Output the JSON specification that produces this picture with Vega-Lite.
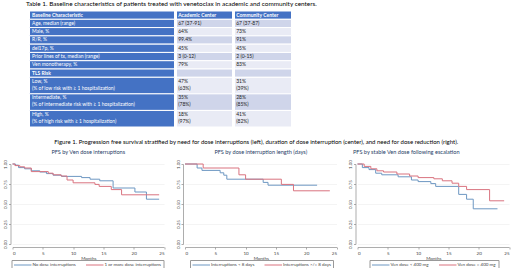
{
  "$schema": "https://vega.github.io/schema/vega-lite/v6.json",
  "padding": {"left": 2.5, "top": 1, "right": 0, "bottom": 0},
  "background": "white",
  "spacing": 10,
  "config": {
    "font": "Lato",
    "view": {"stroke": null},
    "title": {"fontWeight": "normal", "color": "#000000", "font": "Lato"},
    "axis": {
      "labelFont": "Lato", "labelFontSize": 4.5, "labelColor": "#444444",
      "domainColor": "#8a8a8a", "domainWidth": 0.7,
      "tickColor": "#8a8a8a", "tickSize": 2, "tickWidth": 0.7,
      "gridColor": "#ededed", "gridWidth": 0.6, "labelPadding": 1,
      "titleFont": "Lato", "titleFontSize": 4.5, "titleFontWeight": "normal", "titleColor": "#444444"
    },
    "legend": {
      "labelFont": "Lato", "labelFontSize": 4.5, "labelColor": "#444444"
    }
  },
  "datasets": {
    "table": [
      {"row": 0, "col": 0, "text": "Baseline Characteristic"},
      {"row": 0, "col": 1, "text": "Academic Center"},
      {"row": 0, "col": 2, "text": "Community Center"},
      {"row": 1, "col": 0, "text": "Age, median (range)"},
      {"row": 1, "col": 1, "text": "67 (37-91)"},
      {"row": 1, "col": 2, "text": "67 (37-87)"},
      {"row": 2, "col": 0, "text": "Male, %"},
      {"row": 2, "col": 1, "text": "64%"},
      {"row": 2, "col": 2, "text": "73%"},
      {"row": 3, "col": 0, "text": "R/R, %"},
      {"row": 3, "col": 1, "text": "99.4%"},
      {"row": 3, "col": 2, "text": "91%"},
      {"row": 4, "col": 0, "text": "del17p, %"},
      {"row": 4, "col": 1, "text": "45%"},
      {"row": 4, "col": 2, "text": "45%"},
      {"row": 5, "col": 0, "text": "Prior lines of tx, median (range)"},
      {"row": 5, "col": 1, "text": "3 (0-12)"},
      {"row": 5, "col": 2, "text": "2 (0-15)"},
      {"row": 6, "col": 0, "text": "Ven monotherapy, %"},
      {"row": 6, "col": 1, "text": "79%"},
      {"row": 6, "col": 2, "text": "83%"},
      {"row": 7, "col": 0, "text": "TLS Risk"},
      {"row": 7, "col": 1, "text": ""},
      {"row": 7, "col": 2, "text": ""},
      {"row": 8, "col": 0, "text": "\u00a0\u00a0\u00a0Low, %\n\u00a0(% of low risk with ≥ 1 hospitalization)"},
      {"row": 8, "col": 1, "text": "47%\n(63%)"},
      {"row": 8, "col": 2, "text": "31%\n(39%)"},
      {"row": 9, "col": 0, "text": "\u00a0\u00a0\u00a0Intermediate, %\n\u00a0(% of intermediate risk with ≥ 1 hospitalization)"},
      {"row": 9, "col": 1, "text": "35%\n(78%)"},
      {"row": 9, "col": 2, "text": "28%\n(85%)"},
      {"row": 10, "col": 0, "text": "\u00a0\u00a0\u00a0High, %\n\u00a0(% of high risk with ≥ 1 hospitalization)"},
      {"row": 10, "col": 1, "text": "18%\n(97%)"},
      {"row": 10, "col": 2, "text": "41%\n(82%)"}
    ],
    "km": [
      {"p": 1, "g": "No dose interruptions", "t": 0, "s": 1},
      {"p": 1, "g": "No dose interruptions", "t": 0.5, "s": 0.985},
      {"p": 1, "g": "No dose interruptions", "t": 1, "s": 0.955},
      {"p": 1, "g": "No dose interruptions", "t": 2, "s": 0.94},
      {"p": 1, "g": "No dose interruptions", "t": 3.1, "s": 0.915},
      {"p": 1, "g": "No dose interruptions", "t": 4.5, "s": 0.9},
      {"p": 1, "g": "No dose interruptions", "t": 5.6, "s": 0.88},
      {"p": 1, "g": "No dose interruptions", "t": 6.7, "s": 0.86},
      {"p": 1, "g": "No dose interruptions", "t": 8.1, "s": 0.845},
      {"p": 1, "g": "No dose interruptions", "t": 11.4, "s": 0.83},
      {"p": 1, "g": "No dose interruptions", "t": 12.8, "s": 0.81},
      {"p": 1, "g": "No dose interruptions", "t": 14.4, "s": 0.79},
      {"p": 1, "g": "No dose interruptions", "t": 16.6, "s": 0.7},
      {"p": 1, "g": "No dose interruptions", "t": 20.2, "s": 0.65},
      {"p": 1, "g": "No dose interruptions", "t": 22.1, "s": 0.56},
      {"p": 1, "g": "No dose interruptions", "t": 24.2, "s": 0.56},
      {"p": 1, "g": "1 or more dose interruptions", "t": 0, "s": 1},
      {"p": 1, "g": "1 or more dose interruptions", "t": 0.4, "s": 0.98},
      {"p": 1, "g": "1 or more dose interruptions", "t": 1.2, "s": 0.965},
      {"p": 1, "g": "1 or more dose interruptions", "t": 2, "s": 0.95},
      {"p": 1, "g": "1 or more dose interruptions", "t": 3.1, "s": 0.905},
      {"p": 1, "g": "1 or more dose interruptions", "t": 5.9, "s": 0.885},
      {"p": 1, "g": "1 or more dose interruptions", "t": 6.7, "s": 0.865},
      {"p": 1, "g": "1 or more dose interruptions", "t": 8, "s": 0.85},
      {"p": 1, "g": "1 or more dose interruptions", "t": 9, "s": 0.8},
      {"p": 1, "g": "1 or more dose interruptions", "t": 10, "s": 0.765},
      {"p": 1, "g": "1 or more dose interruptions", "t": 13.6, "s": 0.745},
      {"p": 1, "g": "1 or more dose interruptions", "t": 14.3, "s": 0.72},
      {"p": 1, "g": "1 or more dose interruptions", "t": 16.3, "s": 0.68},
      {"p": 1, "g": "1 or more dose interruptions", "t": 18, "s": 0.615},
      {"p": 1, "g": "1 or more dose interruptions", "t": 24.2, "s": 0.615},
      {"p": 2, "g": "Interruptions < 8 days", "t": 0, "s": 1},
      {"p": 2, "g": "Interruptions < 8 days", "t": 2, "s": 0.95},
      {"p": 2, "g": "Interruptions < 8 days", "t": 2.8, "s": 0.92},
      {"p": 2, "g": "Interruptions < 8 days", "t": 5.8, "s": 0.89},
      {"p": 2, "g": "Interruptions < 8 days", "t": 6.4, "s": 0.86},
      {"p": 2, "g": "Interruptions < 8 days", "t": 6.9, "s": 0.81},
      {"p": 2, "g": "Interruptions < 8 days", "t": 12.9, "s": 0.77},
      {"p": 2, "g": "Interruptions < 8 days", "t": 13.7, "s": 0.735},
      {"p": 2, "g": "Interruptions < 8 days", "t": 21.8, "s": 0.735},
      {"p": 2, "g": "Interruptions >/= 8 days", "t": 0, "s": 1},
      {"p": 2, "g": "Interruptions >/= 8 days", "t": 3, "s": 0.95},
      {"p": 2, "g": "Interruptions >/= 8 days", "t": 8.9, "s": 0.865},
      {"p": 2, "g": "Interruptions >/= 8 days", "t": 10, "s": 0.81},
      {"p": 2, "g": "Interruptions >/= 8 days", "t": 15.9, "s": 0.745},
      {"p": 2, "g": "Interruptions >/= 8 days", "t": 17.9, "s": 0.665},
      {"p": 2, "g": "Interruptions >/= 8 days", "t": 23.9, "s": 0.665},
      {"p": 3, "g": "Ven dose < 400 mg", "t": 0, "s": 1},
      {"p": 3, "g": "Ven dose < 400 mg", "t": 0.8, "s": 0.955},
      {"p": 3, "g": "Ven dose < 400 mg", "t": 1.9, "s": 0.93},
      {"p": 3, "g": "Ven dose < 400 mg", "t": 3, "s": 0.885},
      {"p": 3, "g": "Ven dose < 400 mg", "t": 4, "s": 0.865},
      {"p": 3, "g": "Ven dose < 400 mg", "t": 6.7, "s": 0.84},
      {"p": 3, "g": "Ven dose < 400 mg", "t": 8.9, "s": 0.8},
      {"p": 3, "g": "Ven dose < 400 mg", "t": 10, "s": 0.78},
      {"p": 3, "g": "Ven dose < 400 mg", "t": 12.1, "s": 0.755},
      {"p": 3, "g": "Ven dose < 400 mg", "t": 12.9, "s": 0.72},
      {"p": 3, "g": "Ven dose < 400 mg", "t": 16.7, "s": 0.62},
      {"p": 3, "g": "Ven dose < 400 mg", "t": 18, "s": 0.56},
      {"p": 3, "g": "Ven dose < 400 mg", "t": 19.1, "s": 0.44},
      {"p": 3, "g": "Ven dose < 400 mg", "t": 23.1, "s": 0.44},
      {"p": 3, "g": "Ven dose = 400 mg", "t": 0, "s": 1},
      {"p": 3, "g": "Ven dose = 400 mg", "t": 1.1, "s": 0.97},
      {"p": 3, "g": "Ven dose = 400 mg", "t": 2.2, "s": 0.94},
      {"p": 3, "g": "Ven dose = 400 mg", "t": 3.2, "s": 0.915},
      {"p": 3, "g": "Ven dose = 400 mg", "t": 4.3, "s": 0.9},
      {"p": 3, "g": "Ven dose = 400 mg", "t": 6.5, "s": 0.875},
      {"p": 3, "g": "Ven dose = 400 mg", "t": 8.6, "s": 0.85},
      {"p": 3, "g": "Ven dose = 400 mg", "t": 10, "s": 0.83},
      {"p": 3, "g": "Ven dose = 400 mg", "t": 12.6, "s": 0.815},
      {"p": 3, "g": "Ven dose = 400 mg", "t": 14, "s": 0.79},
      {"p": 3, "g": "Ven dose = 400 mg", "t": 15.6, "s": 0.76},
      {"p": 3, "g": "Ven dose = 400 mg", "t": 16.7, "s": 0.72},
      {"p": 3, "g": "Ven dose = 400 mg", "t": 18, "s": 0.68},
      {"p": 3, "g": "Ven dose = 400 mg", "t": 21.8, "s": 0.54},
      {"p": 3, "g": "Ven dose = 400 mg", "t": 24.2, "s": 0.54}
    ]
  },
  "vconcat": [
    {
      "title": {"text": "Table 1. Baseline characteristics of patients treated with venetoclax in academic and community centers.", "anchor": "start", "fontSize": 6.4, "fontWeight": "normal", "dx": 13.5, "offset": 3},
      "data": {"name": "table"},
      "transform": [
        {"calculate": "length(split(datum.text, '\\n'))", "as": "lines"},
        {"window": [{"op": "sum", "field": "lines", "as": "r1"}], "groupby": ["col"], "sort": [{"field": "row", "order": "ascending"}], "frame": [null, 0]},
        {"calculate": "datum.r1 - datum.lines", "as": "r0"}
      ],
      "spacing": 0,
      "hconcat": [
        {"width": 16, "height": 116, "mark": {"type": "text"}, "encoding": {"text": {"value": ""}}},
        {
          "width": 145, "height": 116,
          "transform": [{"filter": "datum.col == 0"}],
          "layer": [
            {"mark": {"type": "rect", "stroke": "white", "strokeWidth": 1},
             "encoding": {
               "x": {"datum": 0, "type": "quantitative", "scale": {"domain": [0, 1]}, "axis": null},
               "x2": {"datum": 1},
               "y": {"field": "r0", "type": "quantitative", "scale": {"domain": [0, 14], "reverse": true, "nice": false, "zero": false}, "axis": null},
               "y2": {"field": "r1"},
               "fill": {"value": "#4472C4"}
             }},
            {"transform": [{"filter": "datum.row == 0 || datum.row == 7"}],
             "mark": {"type": "text", "align": "left", "baseline": "top", "dx": 2.5, "dy": 1.6, "fontSize": 5, "fontWeight": "bold", "lineBreak": "\n", "lineHeight": 7},
             "encoding": {
               "x": {"datum": 0, "type": "quantitative"},
               "y": {"field": "r0", "type": "quantitative"},
               "text": {"field": "text"},
               "fill": {"value": "white"}
             }},
            {"transform": [{"filter": "datum.row != 0 && datum.row != 7"}],
             "mark": {"type": "text", "align": "left", "baseline": "top", "dx": 2.5, "dy": 1.6, "fontSize": 5, "lineBreak": "\n", "lineHeight": 7},
             "encoding": {
               "x": {"datum": 0, "type": "quantitative"},
               "y": {"field": "r0", "type": "quantitative"},
               "text": {"field": "text"},
               "fill": {"value": "white"}
             }}
          ]
        },
        {
          "width": 56, "height": 116,
          "transform": [{"filter": "datum.col == 1"}],
          "layer": [
            {"mark": {"type": "rect", "stroke": "white", "strokeWidth": 1},
             "encoding": {
               "x": {"datum": 0, "type": "quantitative", "scale": {"domain": [0, 1]}, "axis": null},
               "x2": {"datum": 1},
               "y": {"field": "r0", "type": "quantitative", "scale": {"domain": [0, 14], "reverse": true, "nice": false, "zero": false}, "axis": null},
               "y2": {"field": "r1"},
               "fill": {"condition": [{"test": "datum.row == 0", "value": "#4472C4"}, {"test": "datum.row % 2 == 1", "value": "#CFD5EA"}], "value": "#E9EBF5"}
             }},
            {"transform": [{"filter": "datum.row == 0"}],
             "mark": {"type": "text", "align": "left", "baseline": "top", "dx": 1.7, "dy": 1.6, "fontSize": 5, "fontWeight": "bold", "lineBreak": "\n", "lineHeight": 7},
             "encoding": {
               "x": {"datum": 0, "type": "quantitative"},
               "y": {"field": "r0", "type": "quantitative"},
               "text": {"field": "text"},
               "fill": {"value": "white"}
             }},
            {"transform": [{"filter": "datum.row != 0"}],
             "mark": {"type": "text", "align": "left", "baseline": "top", "dx": 1.7, "dy": 1.6, "fontSize": 5, "lineBreak": "\n", "lineHeight": 7},
             "encoding": {
               "x": {"datum": 0, "type": "quantitative"},
               "y": {"field": "r0", "type": "quantitative"},
               "text": {"field": "text"},
               "fill": {"value": "#222222"}
             }}
          ]
        },
        {
          "width": 57, "height": 116,
          "transform": [{"filter": "datum.col == 2"}],
          "layer": [
            {"mark": {"type": "rect", "stroke": "white", "strokeWidth": 1},
             "encoding": {
               "x": {"datum": 0, "type": "quantitative", "scale": {"domain": [0, 1]}, "axis": null},
               "x2": {"datum": 1},
               "y": {"field": "r0", "type": "quantitative", "scale": {"domain": [0, 14], "reverse": true, "nice": false, "zero": false}, "axis": null},
               "y2": {"field": "r1"},
               "fill": {"condition": [{"test": "datum.row == 0", "value": "#4472C4"}, {"test": "datum.row % 2 == 1", "value": "#CFD5EA"}], "value": "#E9EBF5"}
             }},
            {"transform": [{"filter": "datum.row == 0"}],
             "mark": {"type": "text", "align": "left", "baseline": "top", "dx": 1.7, "dy": 1.6, "fontSize": 5, "fontWeight": "bold", "lineBreak": "\n", "lineHeight": 7},
             "encoding": {
               "x": {"datum": 0, "type": "quantitative"},
               "y": {"field": "r0", "type": "quantitative"},
               "text": {"field": "text"},
               "fill": {"value": "white"}
             }},
            {"transform": [{"filter": "datum.row != 0"}],
             "mark": {"type": "text", "align": "left", "baseline": "top", "dx": 1.7, "dy": 1.6, "fontSize": 5, "lineBreak": "\n", "lineHeight": 7},
             "encoding": {
               "x": {"datum": 0, "type": "quantitative"},
               "y": {"field": "r0", "type": "quantitative"},
               "text": {"field": "text"},
               "fill": {"value": "#222222"}
             }}
          ]
        }
      ]
    },
    {
      "title": {"text": "Figure 1. Progression free survival stratified by need for dose interruptions (left), duration of dose interruption (center), and need for dose reduction (right).", "anchor": "middle", "fontSize": 6, "fontWeight": "normal", "offset": 5},
      "data": {"name": "km"},
      "spacing": 9.5,
      "resolve": {"scale": {"color": "independent", "x": "independent", "y": "independent"}, "legend": {"color": "independent"}},
      "hconcat": [
        {
          "width": 151.5, "height": 80,
          "title": {"text": "PFS by Ven dose interruptions", "fontSize": 5.6, "fontWeight": "normal", "color": "#1f3d66", "offset": 4},
          "transform": [{"filter": "datum.p == 1"}],
          "mark": {"type": "line", "interpolate": "step-after", "strokeWidth": 1},
          "encoding": {
            "x": {"field": "t", "type": "quantitative", "scale": {"domain": [0, 25], "nice": false, "zero": false},
                  "axis": {"values": [0, 5, 10, 15, 20, 25], "title": "Months", "titlePadding": 1, "offset": 3, "grid": false}},
            "y": {"field": "s", "type": "quantitative", "scale": {"domain": [0, 1], "nice": false},
                  "axis": {"values": [0, 0.25, 0.5, 0.75, 1], "format": ".2f", "title": null, "offset": 2, "grid": true, "labelAngle": 270, "labelAlign": "center", "labelBaseline": "bottom"}},
            "color": {"field": "g", "type": "nominal",
                      "scale": {"domain": ["No dose interruptions", "1 or more dose interruptions"], "range": ["#6d97c2", "#d9737f"]},
                      "legend": {"orient": "none", "legendX": -1, "legendY": 96, "direction": "horizontal", "columns": 2, "title": null, "strokeColor": "#999999", "padding": 2, "symbolType": "M-1,0H6", "symbolSize": 25, "symbolStrokeWidth": 1, "labelOffset": 13, "columnPadding": 7, "labelLimit": 200}}
          }
        },
        {
          "width": 151.5, "height": 80,
          "title": {"text": "PFS by dose interruption length (days)", "fontSize": 5.6, "fontWeight": "normal", "color": "#1f3d66", "offset": 4},
          "transform": [{"filter": "datum.p == 2"}],
          "mark": {"type": "line", "interpolate": "step-after", "strokeWidth": 1},
          "encoding": {
            "x": {"field": "t", "type": "quantitative", "scale": {"domain": [0, 25], "nice": false, "zero": false},
                  "axis": {"values": [0, 5, 10, 15, 20, 25], "title": "Months", "titlePadding": 1, "offset": 3, "grid": false}},
            "y": {"field": "s", "type": "quantitative", "scale": {"domain": [0, 1], "nice": false},
                  "axis": {"values": [0, 0.25, 0.5, 0.75, 1], "format": ".2f", "title": null, "offset": 2, "grid": true, "labelAngle": 270, "labelAlign": "center", "labelBaseline": "bottom"}},
            "color": {"field": "g", "type": "nominal",
                      "scale": {"domain": ["Interruptions < 8 days", "Interruptions >/= 8 days"], "range": ["#6d97c2", "#d9737f"]},
                      "legend": {"orient": "none", "legendX": 5, "legendY": 96, "direction": "horizontal", "columns": 2, "title": null, "strokeColor": "#999999", "padding": 2, "symbolType": "M-1,0H6", "symbolSize": 25, "symbolStrokeWidth": 1, "labelOffset": 13, "columnPadding": 7, "labelLimit": 200}}
          }
        },
        {
          "width": 151.5, "height": 80,
          "title": {"text": "PFS by stable Ven dose following escalation", "fontSize": 5.6, "fontWeight": "normal", "color": "#1f3d66", "offset": 4, "dx": -27},
          "transform": [{"filter": "datum.p == 3"}],
          "mark": {"type": "line", "interpolate": "step-after", "strokeWidth": 1},
          "encoding": {
            "x": {"field": "t", "type": "quantitative", "scale": {"domain": [0, 25], "nice": false, "zero": false},
                  "axis": {"values": [0, 5, 10, 15, 20, 25], "title": "Months", "titlePadding": 1, "offset": 3, "grid": false}},
            "y": {"field": "s", "type": "quantitative", "scale": {"domain": [0, 1], "nice": false},
                  "axis": {"values": [0, 0.25, 0.5, 0.75, 1], "format": ".2f", "title": null, "offset": 2, "grid": true, "labelAngle": 270, "labelAlign": "center", "labelBaseline": "bottom"}},
            "color": {"field": "g", "type": "nominal",
                      "scale": {"domain": ["Ven dose < 400 mg", "Ven dose = 400 mg"], "range": ["#6d97c2", "#d9737f"]},
                      "legend": {"orient": "none", "legendX": 12, "legendY": 96, "direction": "horizontal", "columns": 2, "title": null, "strokeColor": "#999999", "padding": 2, "symbolType": "M-1,0H6", "symbolSize": 25, "symbolStrokeWidth": 1, "labelOffset": 13, "columnPadding": 7, "labelLimit": 200}}
          }
        }
      ]
    }
  ]
}
